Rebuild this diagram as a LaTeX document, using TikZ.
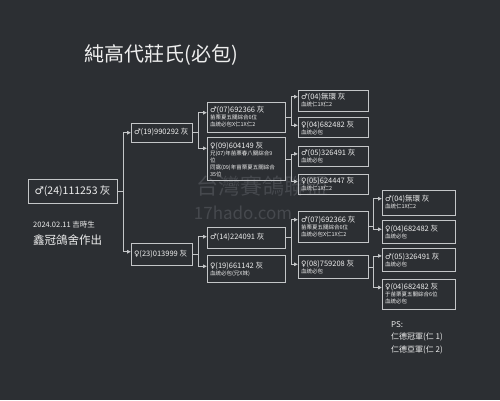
\documentclass[tikz,border=0pt]{standalone}
\usepackage{fontspec}
\setmainfont{Noto Sans CJK TC}
\newfontfamily\sexfont{DejaVu Sans}
\usetikzlibrary{arrows.meta, positioning}
\definecolor{board}{RGB}{44,47,51}
\definecolor{edge}{RGB}{196,198,200}
\definecolor{ink}{RGB}{238,238,238}
\definecolor{wm}{RGB}{70,73,78}
\newcommand{\cock}{{\sexfont ♂}}
\newcommand{\hen}{{\sexfont ♀}}
\newcommand{\bandline}[1]{{\fontsize{7.5}{9}\selectfont #1}}

\begin{document}
\begin{tikzpicture}[
    x=1pt, y=-1pt,
    node distance=6pt,
    pbox/.style={rectangle, draw=edge, line width=0.6pt, text=ink, inner xsep=3pt, inner ysep=2pt, align=left, font=\fontsize{5.5}{7}\selectfont},
    gen2/.style={pbox, text width=55pt},
    gen3/.style={pbox, text width=72pt},
    gen4/.style={pbox, text width=64pt},
    gen5/.style={pbox, text width=67pt},
    rootbox/.style={rectangle, draw=edge, line width=0.6pt, text=ink, minimum width=89pt, minimum height=24pt, font=\fontsize{10.5}{12}\selectfont},
    note/.style={text=ink, inner sep=0pt},
    wmark/.style={text=wm, inner sep=0pt},
    link/.style={-{Triangle[length=3.5pt, width=3.5pt]}, line width=0.6pt, edge},
]
\fill[board] (0,0) rectangle (500,400);

\node[wmark, font=\fontsize{22}{22}\selectfont] (wm1) at (262,186) {台灣賽鴿聯盟};
\node[wmark, font=\fontsize{17}{17}\selectfont] (wm2) at (243,213) {17hado.com};

\node[note, font=\fontsize{20}{22}\selectfont] (title) at (161,55) {純高代莊氏(必包)};

\node[rootbox] (root) at (72.5,191) {\cock(24)111253 灰};
\node[note, anchor=west, font=\fontsize{7.5}{9}\selectfont] (born) at (33,225) {2024.02.11 吉時生};
\node[note, anchor=west, font=\fontsize{11.5}{13}\selectfont] (loft) at (33,240) {鑫冠鴿舍作出};

\node[gen2, minimum height=19pt] (s19) at (161.5,132.5) {\bandline{\cock(19)990292~灰}};
\node[gen2, minimum height=22pt] (d23) at (161.5,254) {\bandline{\hen(23)013999~灰}};

\node[gen3, minimum height=30pt] (ss07) at (246,117) {\bandline{\cock(07)692366~灰}\\苗栗夏五關綜合6位\\血統必包X仁1X仁2};
\node[gen3, minimum height=43pt, below=5pt of ss07] (sd09) {\bandline{\hen(09)604149~灰}\\兄(07)年苗栗春八關綜合9\\位\\同窩(09)年苗栗夏五關綜合\\35位};
\node[gen3, minimum height=21pt] (ds14) at (246,237.5) {\bandline{\cock(14)224091~灰}};
\node[gen3, minimum height=27pt, below=7pt of ds14] (dd19) {\bandline{\hen(19)661142~灰}\\血統必包(兄X妹)};

\node[gen4, minimum height=21pt] (sss04) at (333,100.5) {\bandline{\cock(04)無環~灰}\\血統仁1X仁2};
\node[gen4, minimum height=20pt, below=6pt of sss04] (ssd04) {\bandline{\hen(04)682482~灰}\\血統必包};
\node[gen4, minimum height=20pt, below=8pt of ssd04] (sds05) {\bandline{\cock(05)326491~灰}\\血統必包};
\node[gen4, minimum height=20pt, below=7pt of sds05] (sdd05) {\bandline{\hen(05)624447~灰}\\血統仁1X仁2};
\node[gen4, minimum height=31pt] (dss07) at (333,226.5) {\bandline{\cock(07)692366~灰}\\苗栗夏五關綜合6位\\血統必包X仁1X仁2};
\node[gen4, minimum height=23pt, below=13pt of dss07] (dsd08) {\bandline{\hen(08)759208~灰}\\血統必包};

\node[gen5, minimum height=25pt] (dsss04) at (418.5,202.5) {\bandline{\cock(04)無環~灰}\\血統仁1X仁2};
\node[gen5, minimum height=23pt, below=5pt of dsss04] (dssd04) {\bandline{\hen(04)682482~灰}\\血統必包};
\node[gen5, minimum height=23pt, below=4pt of dssd04] (dsds05) {\bandline{\cock(05)326491~灰}\\血統必包};
\node[gen5, minimum height=30pt, below=7pt of dsds05] (dsdd04) {\bandline{\hen(04)682482~灰}\\于苗栗夏五關綜合6位\\血統必包};

\node[note, anchor=north west, align=left, font=\fontsize{8}{12.5}\selectfont] (ps) at (391,321) {PS:\\仁德冠軍(仁 1)\\仁德亞軍(仁 2)};

\draw[link] (root.east) -- ++(6,0) |- ([yshift=-10pt]s19.north west);
\draw[link] (root.east) -- ++(6,0) |- ([yshift=-9pt]d23.north west);
\draw[link] (s19.east) -- ++(6,0) |- ([yshift=-11pt]ss07.north west);
\draw[link] (s19.east) -- ++(6,0) |- ([yshift=-11pt]sd09.north west);
\draw[link] (d23.east) -- ++(6,0) |- ([yshift=-10pt]ds14.north west);
\draw[link] (d23.east) -- ++(6,0) |- ([yshift=-11pt]dd19.north west);
\draw[link] (ss07.east) -- ++(6,0) |- ([yshift=-7pt]sss04.north west);
\draw[link] (ss07.east) -- ++(6,0) |- ([yshift=-8pt]ssd04.north west);
\draw[link] (sd09.east) -- ++(6,0) |- ([yshift=-8pt]sds05.north west);
\draw[link] (sd09.east) -- ++(6,0) |- ([yshift=-8pt]sdd05.north west);
\draw[link] (ds14.east) -- ++(6,0) |- ([yshift=-9pt]dss07.north west);
\draw[link] (ds14.east) -- ++(6,0) |- ([yshift=-9pt]dsd08.north west);
\draw[link] (dss07.east) -- ++(5,0) |- ([yshift=-9pt]dsss04.north west);
\draw[link] (dss07.east) -- ++(5,0) |- ([yshift=-9pt]dssd04.north west);
\draw[link] (dsd08.east) -- ++(5,0) |- ([yshift=-8pt]dsds05.north west);
\draw[link] (dsd08.east) -- ++(5,0) |- ([yshift=-9pt]dsdd04.north west);
\end{tikzpicture}
\end{document}
